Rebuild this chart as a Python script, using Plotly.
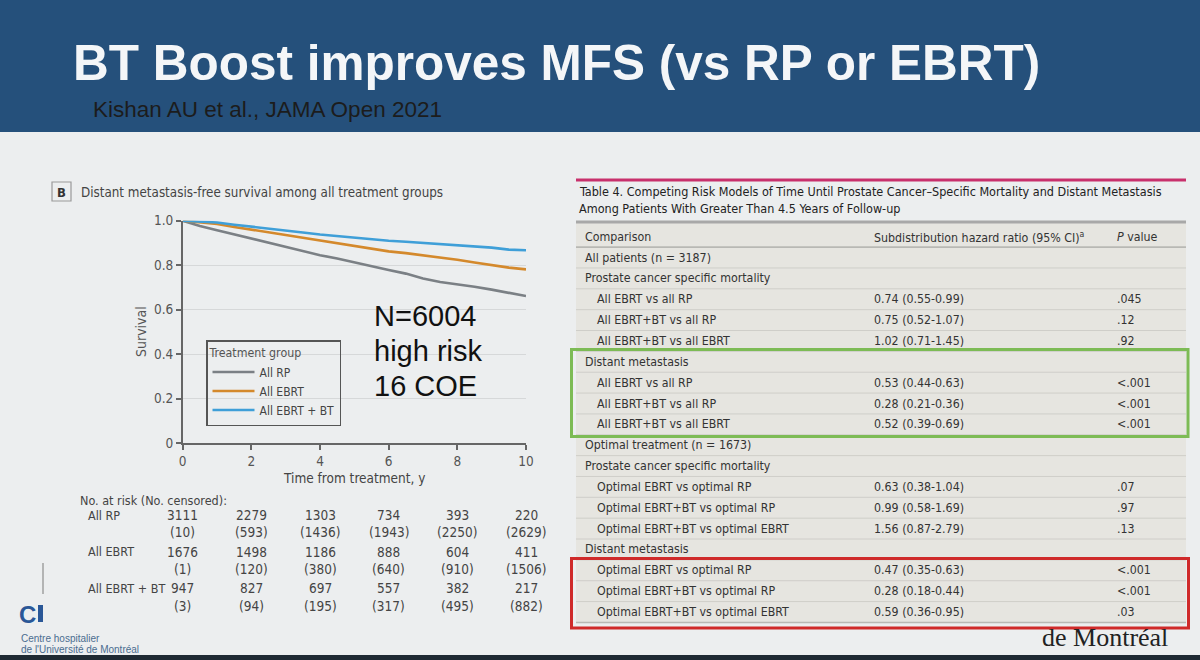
import plotly.graph_objects as go

W, H = 1200, 660

# ---------------- data ----------------
years = [0, 0.5, 1, 1.5, 2, 2.5, 3, 3.5, 4, 4.5, 5, 5.5, 6, 6.5, 7, 7.5, 8, 8.5, 9, 9.5, 10]
surv_rp = [1.0, 0.976, 0.957, 0.938, 0.918, 0.899, 0.881, 0.862, 0.845, 0.830, 0.812,
           0.793, 0.778, 0.762, 0.740, 0.724, 0.714, 0.703, 0.690, 0.676, 0.661]
surv_ebrt = [1.0, 0.994, 0.985, 0.972, 0.961, 0.949, 0.936, 0.923, 0.911, 0.898, 0.886,
             0.874, 0.862, 0.854, 0.845, 0.835, 0.824, 0.812, 0.800, 0.789, 0.781]
surv_bt = [1.0, 0.997, 0.992, 0.982, 0.974, 0.966, 0.957, 0.947, 0.938, 0.931, 0.922,
           0.915, 0.910, 0.905, 0.900, 0.893, 0.888, 0.884, 0.879, 0.870, 0.867]
group_names = ["All RP", "All EBRT", "All EBRT + BT"]
group_colors = ["#7b8085", "#d4892c", "#3f9fd8"]

x_ticks = [0, 2, 4, 6, 8, 10]
y_ticks = [0, 0.2, 0.4, 0.6, 0.8, 1.0]
y_ticklabels = ["0", "0.2", "0.4", "0.6", "0.8", "1.0"]

risk_times = [0, 2, 4, 6, 8, 10]
risk_rp = [3111, 2279, 1303, 734, 393, 220]
cens_rp = [10, 593, 1436, 1943, 2250, 2629]
risk_ebrt = [1676, 1498, 1186, 888, 604, 411]
cens_ebrt = [1, 120, 380, 640, 910, 1506]
risk_bt = [947, 827, 697, 557, 382, 217]
cens_bt = [3, 94, 195, 317, 495, 882]
risk_labels = ["All RP", "All EBRT", "All EBRT + BT"]

table_title = ["Table 4. Competing Risk Models of Time Until Prostate Cancer\u2013Specific Mortality and Distant Metastasis",
               "Among Patients With Greater Than 4.5 Years of Follow-up"]
table_header = ["Comparison", "Subdistribution hazard ratio (95% CI)<sup>a</sup>", "<i>P</i> value"]
table_comparison = [
    "All patients (n = 3187)",
    "Prostate cancer specific mortality",
    "All EBRT vs all RP",
    "All EBRT+BT vs all RP",
    "All EBRT+BT vs all EBRT",
    "Distant metastasis",
    "All EBRT vs all RP",
    "All EBRT+BT vs all RP",
    "All EBRT+BT vs all EBRT",
    "Optimal treatment (n = 1673)",
    "Prostate cancer specific mortality",
    "Optimal EBRT vs optimal RP",
    "Optimal EBRT+BT vs optimal RP",
    "Optimal EBRT+BT vs optimal EBRT",
    "Distant metastasis",
    "Optimal EBRT vs optimal RP",
    "Optimal EBRT+BT vs optimal RP",
    "Optimal EBRT+BT vs optimal EBRT",
]
table_hr = ["", "", "0.74 (0.55-0.99)", "0.75 (0.52-1.07)", "1.02 (0.71-1.45)",
            "", "0.53 (0.44-0.63)", "0.28 (0.21-0.36)", "0.52 (0.39-0.69)",
            "", "", "0.63 (0.38-1.04)", "0.99 (0.58-1.69)", "1.56 (0.87-2.79)",
            "", "0.47 (0.35-0.63)", "0.28 (0.18-0.44)", "0.59 (0.36-0.95)"]
table_p = ["", "", ".045", ".12", ".92",
           "", "<.001", "<.001", "<.001",
           "", "", ".07", ".97", ".13",
           "", "<.001", "<.001", ".03"]
table_indent = [0, 0, 1, 1, 1, 0, 1, 1, 1, 0, 0, 1, 1, 1, 0, 1, 1, 1]

# ---------------- helpers (pixel -> paper) ----------------
def X(px):
    return px / W

def Y(py):
    return 1 - py / H

NARROW = "DejaVu Sans Condensed, Liberation Sans Narrow, Roboto, sans-serif"
ARIAL = "Liberation Sans, Arial, sans-serif"
SERIF = "Liberation Serif, DejaVu Serif, serif"
BG = "#eceeef"
TFS = 12.3  # table font size

fig = go.Figure()
for name, color, ys in zip(group_names, group_colors, [surv_rp, surv_ebrt, surv_bt]):
    fig.add_trace(go.Scatter(x=years, y=ys, mode="lines", name=name,
                             line=dict(color=color, width=2.6), hoverinfo="skip"))

shapes = []
ann = []


def txt(text, px, py, size, color="#333", family=NARROW, xanchor="left", weight="normal",
        xref="paper", x=None, **kw):
    ann.append(dict(text=text, x=(X(px) if x is None else x), y=Y(py), xref=xref, yref="paper",
                    xanchor=xanchor, yanchor="middle", showarrow=False,
                    font=dict(family=family, size=size, color=color, weight=weight), **kw))


def rect(x0, y0, x1, y1, fill="rgba(0,0,0,0)", lc=None, lw=0, layer="above"):
    shapes.append(dict(type="rect", xref="paper", yref="paper", x0=X(x0), x1=X(x1), y0=Y(y1), y1=Y(y0),
                       fillcolor=fill, line=dict(color=lc, width=lw) if lc else dict(width=0),
                       layer=layer))


def hline(x0, x1, py, color, width):
    shapes.append(dict(type="line", xref="paper", yref="paper", x0=X(x0), x1=X(x1), y0=Y(py), y1=Y(py),
                       line=dict(color=color, width=width)))


# title bar & bottom bar
rect(0, 0, W, 132, fill="#25507b", layer="below")
rect(0, 655, W, H, fill="#1f2a33", layer="below")
txt("BT Boost improves MFS (vs RP or EBRT)", 71, 62, 49.5, color="#f4f6f8", family=ARIAL, weight="bold")
txt("Kishan AU et al., JAMA Open 2021", 91, 110, 22.5, color="#1c1c1c", family=ARIAL)

# panel heading
rect(52, 182, 71, 201, lc="#9a9a9a", lw=1.2)
txt("B", 61.5, 192, 13, color="#333", xanchor="center", weight="bold")
txt("Distant metastasis-free survival among all treatment groups", 79, 192, 13.3, color="#444")

# axis titles
txt("Survival", 141, 332, 14, color="#555", xanchor="center", textangle=-90)
txt("Time from treatment, y", 0, 478, 13.5, color="#444", xanchor="center", xref="x", x=5)

# in-plot note
for line_text, py in zip(["N=6004", "high risk", "16 COE"], [316, 351, 386]):
    txt(line_text, 372, py, 29, color="#111", family=ARIAL)

# risk table
txt("No. at risk (No. censored):", 78, 501, 12.5, color="#444")
rows_y = [(515, 532), (551.5, 569), (588, 605.5)]
for lab, risk, cens, (yn, yc) in zip(risk_labels, [risk_rp, risk_ebrt, risk_bt],
                                     [cens_rp, cens_ebrt, cens_bt], rows_y):
    txt(lab, 86, yn, 12.5, color="#444")
    for t, n, c in zip(risk_times, risk, cens):
        txt(str(n), 0, yn, 13.5, color="#444", xanchor="center", xref="x", x=t)
        txt(f"({c})", 0, yc, 13.5, color="#444", xanchor="center", xref="x", x=t)

# logo bits bottom-left
shapes.append(dict(type="line", xref="paper", yref="paper", x0=X(43), x1=X(43), y0=Y(563), y1=Y(594),
                   line=dict(color="#a0a0a0", width=1.5)))
txt("C", 17, 614, 24, color="#2a5797", family=ARIAL, weight="bold")
rect(38, 605, 43, 622, fill="#2a5797")
txt("Centre hospitalier", 19, 638, 10, color="#4b6d8f", family=ARIAL)
txt("de l'Université de Montréal", 19, 649, 10, color="#4b6d8f", family=ARIAL)

# ---------------- right table ----------------
TL, TR = 576, 1186
row0 = 236.7
pitch = 20.85
rect(TL, 222, TR, 623, fill="#e6e5e0", layer="below")
hline(TL, TR, 180, "#c8306c", 3)
hline(TL, TR, 222, "#a8a8a8", 3)
for line_text, py in zip(table_title, [191.5, 208.5]):
    txt(line_text, 577, py, 12.5, color="#222")
col_x = [582.5, 872, 1115]
for head, cx in zip(table_header, col_x):
    txt(head, cx, row0, TFS, color="#333")
n_rows = len(table_comparison)
for i in range(n_rows + 1):
    ly = row0 + pitch * i + pitch / 2
    edge = i == 0 or i == n_rows
    hline(TL, TR, ly, "#b8b8b4" if edge else "#cfcec9", 1.6 if edge else 1)
for i, (cmp_, hr, p, ind) in enumerate(zip(table_comparison, table_hr, table_p, table_indent)):
    ry = row0 + pitch * (i + 1)
    txt(cmp_, 582.5 + 12.5 * ind, ry, TFS, color="#333")
    if hr:
        txt(hr, col_x[1], ry, TFS, color="#333")
    if p:
        txt(p, col_x[2], ry, TFS, color="#333")

# highlight boxes
rect(571.5, 349.5, 1188, 436.5, lc="#7dbb55", lw=3)
rect(571.5, 558.5, 1188.5, 628, lc="#cf2a2a", lw=3)
txt("de Montréal", 1170, 637, 26, color="#222", family=SERIF, xanchor="right")

fig.update_layout(
    width=W, height=H, margin=dict(l=0, r=0, t=0, b=0, autoexpand=False),
    paper_bgcolor=BG, plot_bgcolor="rgba(0,0,0,0)",
    shapes=shapes, annotations=ann,
    xaxis=dict(domain=[X(182.7), X(526)], range=[0, 10], tickvals=x_ticks, showgrid=False,
               zeroline=False, showline=True, linecolor="#666", linewidth=1.5, ticks="outside",
               ticklen=5, tickcolor="#666", tickwidth=1.5,
               tickfont=dict(family=NARROW, size=13.5, color="#555"), fixedrange=True),
    yaxis=dict(domain=[Y(443), Y(220.7)], range=[0, 1], tickvals=y_ticks, ticktext=y_ticklabels,
               showgrid=True, gridcolor="#d6d8d9", gridwidth=1, zeroline=False, showline=True,
               linecolor="#666", linewidth=1.5, ticks="outside", ticklen=5, tickcolor="#666",
               tickwidth=1.5, tickfont=dict(family=NARROW, size=13.5, color="#555"), fixedrange=True),
    legend=dict(x=X(206), y=Y(340), xanchor="left", yanchor="top", bgcolor="rgba(0,0,0,0)",
                bordercolor="#555", borderwidth=1.5, itemwidth=42,
                title=dict(text="Treatment group", font=dict(family=NARROW, size=12.3, color="#555")),
                font=dict(family=NARROW, size=12, color="#444"), tracegroupgap=0),
    showlegend=True,
)

fig.write_html("out.html")
